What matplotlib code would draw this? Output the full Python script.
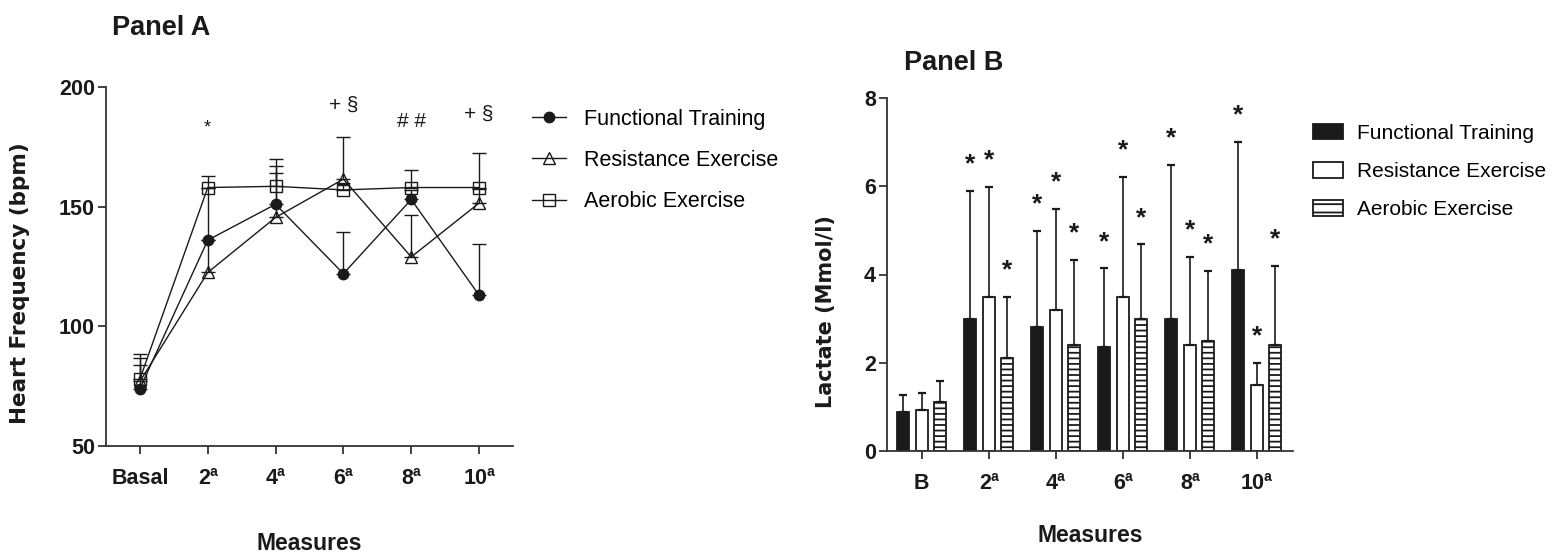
import matplotlib
matplotlib.use("Agg")
import matplotlib.pyplot as plt
import numpy as np
from matplotlib.patches import Patch
from matplotlib.lines import Line2D

# ---------------- data ----------------
groups = ["Functional Training", "Resistance Exercise", "Aerobic Exercise"]

# Panel A: heart frequency (bpm), mean and upper SD
hr_labels = ["Basal", "2ª", "4ª", "6ª", "8ª", "10ª"]
hr_ft = [74, 136, 151, 122, 153, 113]
hr_ft_sd = [12.7, 21.8, 16.2, 17.5, 4.0, 21.4]
hr_re = [77, 122.5, 145.5, 161.5, 129, 151.5]
hr_re_sd = [7.0, 13.5, 18.6, 17.5, 17.5, 6.0]
hr_ae = [78, 158, 158.5, 157, 158, 158]
hr_ae_sd = [10.3, 5.0, 11.6, 3.0, 7.5, 14.5]

# significance marks above the heart frequency curves
hr_sig_pos = [1, 3, 4, 5]
hr_sig_text = ["*", "+ §", "# #", "+ §"]
hr_sig_y = [183, 192.5, 185.5, 188.5]

# Panel B: lactate (mmol/l), mean and upper SD
lac_labels = ["B", "2ª", "4ª", "6ª", "8ª", "10ª"]
lac_ft = [0.88, 3.0, 2.8, 2.35, 3.0, 4.1]
lac_ft_sd = [0.39, 2.9, 2.19, 1.79, 3.49, 2.9]
lac_re = [0.93, 3.5, 3.2, 3.5, 2.4, 1.5]
lac_re_sd = [0.39, 2.49, 2.29, 2.71, 2.0, 0.5]
lac_ae = [1.1, 2.1, 2.4, 3.0, 2.5, 2.4]
lac_ae_sd = [0.48, 1.39, 1.93, 1.68, 1.58, 1.79]
# significant vs. baseline
lac_sig = [False, True, True, True, True, True]

# ---------------- style ----------------
NARROW = ["Liberation Sans Narrow", "Liberation Sans", "DejaVu Sans"]
REGULAR = ["Liberation Sans", "DejaVu Sans"]
INK = "#1a1a1a"
AX = "#333333"

plt.rcParams["font.family"] = REGULAR
plt.rcParams["hatch.linewidth"] = 1.3

fig = plt.figure(figsize=(15.54, 5.56), dpi=100)
W, H = 1554, 556


def style_axes(ax):
    for s in ("top", "right"):
        ax.spines[s].set_visible(False)
    for s in ("left", "bottom"):
        ax.spines[s].set_color(AX)
        ax.spines[s].set_linewidth(1.3)
    ax.tick_params(axis="both", direction="out", length=6, width=1.3, color=AX)
    ax.tick_params(axis="x", pad=10)
    ax.tick_params(axis="y", pad=2)
    for lab in ax.get_xticklabels() + ax.get_yticklabels():
        lab.set_family(NARROW)
        lab.set_fontweight("bold")
        lab.set_fontsize(15.5)
        lab.set_color(INK)


# ---------------- Panel A ----------------
axA = fig.add_axes([106 / W, 1 - 446 / H, (513 - 106) / W, (446 - 87) / H])
x = np.arange(len(hr_labels))

series = [
    (hr_ft, hr_ft_sd, dict(marker="o", markersize=7.5, markerfacecolor=INK,
                           markeredgecolor=INK)),
    (hr_re, hr_re_sd, dict(marker="^", markersize=8.5, markerfacecolor="none",
                           markeredgecolor=INK, markeredgewidth=1.0)),
    (hr_ae, hr_ae_sd, dict(marker="s", markersize=8.5, markerfacecolor="none",
                           markeredgecolor=INK, markeredgewidth=1.0)),
]
for (m, sd, mk), name in zip(series, groups):
    axA.errorbar(x, m, yerr=[np.zeros(len(sd)), sd], color=INK, lw=1.0,
                 elinewidth=1.0, capsize=5, capthick=1.0, label=name, **mk)

for xp, t, yp in zip(hr_sig_pos, hr_sig_text, hr_sig_y):
    axA.text(xp, yp, t, ha="center", va="center", fontsize=15 if t != "*" else 13,
             family=NARROW, color=INK)

axA.set_xlim(-0.5, 5.5)
axA.set_ylim(50, 200)
axA.set_yticks([50, 100, 150, 200])
axA.set_xticks(x)
axA.set_xticklabels(hr_labels)
style_axes(axA)

fig.text(112 / W, 1 - 28 / H, "Panel A", family=NARROW, fontweight="bold",
         fontsize=19.5, va="center", ha="left", color=INK)
fig.text(20 / W, 1 - 283 / H, "Heart Frequency (bpm)", rotation=90,
         family=["DejaVu Sans"], fontweight="bold", fontsize=15.5,
         ha="center", va="center", color=INK)
fig.text(309 / W, 1 - 543 / H, "Measures", family=NARROW, fontweight="bold",
         fontsize=16.5, ha="center", va="center", color=INK)

legA_handles = [
    Line2D([], [], color=INK, lw=1.0, **series[0][2]),
    Line2D([], [], color=INK, lw=1.0, **series[1][2]),
    Line2D([], [], color=INK, lw=1.0, **series[2][2]),
]
fig.legend(legA_handles, groups, loc="upper left",
           bbox_to_anchor=(532 / W, 1 - 109 / H), frameon=False,
           prop=dict(family=REGULAR, size=15.5), handlelength=1.6,
           handletextpad=0.8, labelspacing=0.93, borderaxespad=0,
           borderpad=0)

# ---------------- Panel B ----------------
axB = fig.add_axes([887 / W, 1 - 451 / H, 406 / W, (451 - 98) / H])
xb = np.arange(len(lac_labels))
bw = 0.18
off = 0.276

bar_specs = [
    (lac_ft, lac_ft_sd, -off, dict(facecolor=INK, edgecolor=INK, hatch=None)),
    (lac_re, lac_re_sd, 0.0, dict(facecolor="white", edgecolor=INK, hatch=None)),
    (lac_ae, lac_ae_sd, off, dict(facecolor="white", edgecolor=INK, hatch="---")),
]
for (m, sd, dx, st), name in zip(bar_specs, groups):
    axB.bar(xb + dx, m, width=bw, linewidth=1.3, label=name, zorder=2, **st)
    axB.errorbar(xb + dx, m, yerr=[np.zeros(len(sd)), sd], fmt="none",
                 ecolor=INK, elinewidth=1.2, capsize=3, capthick=1.6, zorder=3)
    tops = np.array(m) + np.array(sd)
    for xi, top, s in zip(xb + dx, tops, lac_sig):
        if s:
            axB.annotate("*", (xi, top), xytext=(0, 19), textcoords="offset points",
                         ha="center", va="center", fontsize=19, fontweight="bold",
                         family=REGULAR, color=INK)

axB.set_xlim(-0.52, 5.54)
axB.set_ylim(0, 8)
axB.set_yticks([0, 2, 4, 6, 8])
axB.set_xticks(xb)
axB.set_xticklabels(lac_labels)
style_axes(axB)

fig.text(904 / W, 1 - 63 / H, "Panel B", family=NARROW, fontweight="bold",
         fontsize=19.5, va="center", ha="left", color=INK)
fig.text(826 / W, 1 - 312 / H, "Lactate (Mmol/l)", rotation=90,
         family=["DejaVu Sans"], fontweight="bold", fontsize=15,
         ha="center", va="center", color=INK)
fig.text(1090 / W, 1 - 535 / H, "Measures", family=NARROW, fontweight="bold",
         fontsize=16.5, ha="center", va="center", color=INK)

legB_handles = [
    Patch(facecolor=INK, edgecolor=INK, linewidth=1.3),
    Patch(facecolor="white", edgecolor=INK, linewidth=1.3),
    Patch(facecolor="white", edgecolor=INK, linewidth=1.3, hatch="--"),
]
fig.legend(legB_handles, groups, loc="upper left",
           bbox_to_anchor=(1313 / W, 1 - 124 / H), frameon=False,
           prop=dict(family=REGULAR, size=15), handlelength=1.45,
           handleheight=0.75, handletextpad=0.65, labelspacing=0.92,
           borderaxespad=0, borderpad=0)

fig.savefig("out.png", dpi=100)
